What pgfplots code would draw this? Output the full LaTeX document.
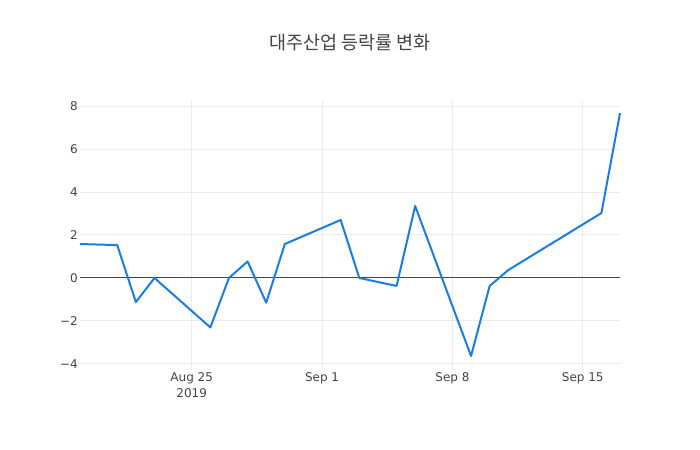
\documentclass[border=0pt]{standalone}
\usepackage{pgfplots}
\pgfplotsset{compat=1.18}
\usepackage{fontspec}
\setmainfont{DejaVu Sans}
\newfontfamily\kr{Noto Sans CJK KR}
\definecolor{tickc}{HTML}{444444}
\definecolor{gridc}{HTML}{EBEBEB}
\definecolor{linec}{HTML}{1A7DE5}

\begin{document}
\begin{tikzpicture}
  \begin{axis}[
    scale only axis,
    width=540bp,
    height=270bp,
    xmin=19, xmax=48,
    ymin=-4.28, ymax=8.28,
    axis line style={draw=none},
    major tick length=0pt,
    xtick={25,32,39,46},
    xticklabels={Aug 25\\2019, Sep 1, Sep 8, Sep 15},
    xticklabel style={align=center, font=\fontsize{12bp}{16bp}\selectfont,
      text=tickc, inner sep=2bp},
    ytick={-4,-2,0,2,4,6,8},
    yticklabels={−4,−2,0,2,4,6,8},
    yticklabel style={font=\fontsize{12bp}{14bp}\selectfont, text=tickc,
      inner sep=2bp},
    grid=major,
    grid style={gridc, line width=1bp},
    clip=false,
  ]
    % zero line
    \draw[tickc, line width=1bp] (axis cs:19,0) -- (axis cs:48,0);

    % day index: Aug 1 = 1, Sep 1 = 32
    \addplot[linec, line width=2bp, line join=round] coordinates {
      (19, 1.58)
      (21, 1.53)
      (22,-1.12)
      (23, 0.00)
      (26,-2.30)
      (27, 0.00)
      (28, 0.77)
      (29,-1.15)
      (30, 1.58)
      (33, 2.70)
      (34, 0.00)
      (36,-0.37)
      (37, 3.35)
      (40,-3.63)
      (41,-0.37)
      (42, 0.37)
      (47, 3.02)
      (48, 7.67)
    };

    \node[font=\kr\fontsize{18.5bp}{22bp}\selectfont, text=tickc]
      at (rel axis cs:0.5,1) [yshift=57bp] {대주산업 등락률 변화};
  \end{axis}
  \path ([shift={(-80bp,-80bp)}]current axis.south west)
    rectangle ([shift={(80bp,100bp)}]current axis.north east);
\end{tikzpicture}
\end{document}
